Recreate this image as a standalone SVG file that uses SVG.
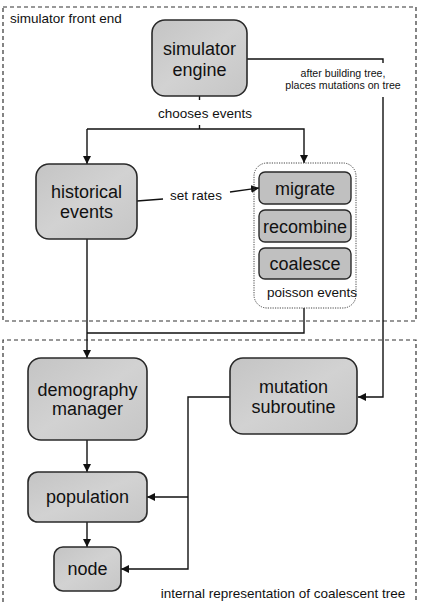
<svg xmlns="http://www.w3.org/2000/svg" width="438" height="602" viewBox="0 0 438 602">
<defs>
<marker id="ah" viewBox="0 0 10 10" refX="10" refY="5" markerWidth="8" markerHeight="8" markerUnits="userSpaceOnUse" orient="auto">
<path d="M0,0 L10,5 L0,10 Z" fill="#111"/>
</marker>
<linearGradient id="g" x1="0" y1="0" x2="1" y2="1">
<stop offset="0" stop-color="#c4c4c4"/>
<stop offset="0.5" stop-color="#d2d2d2"/>
<stop offset="1" stop-color="#c6c6c6"/>
</linearGradient>
</defs>
<style>
.frame{fill:none;stroke:#333;stroke-width:1.2;stroke-dasharray:4 3}
.box{fill:url(#g);stroke:#2a2a2a;stroke-width:1.6}
.sbox{fill:#c0c0c0;stroke:#2a2a2a;stroke-width:1.4}
.t{font-family:"Liberation Sans",Arial,sans-serif;fill:#111;text-anchor:middle}
.big{font-size:18px}
.lbl{font-size:13.5px}
.sm{font-size:10.6px}
.c{fill:none;stroke:#111;stroke-width:1.4}
.ca{fill:none;stroke:#111;stroke-width:1.4;marker-end:url(#ah)}
</style>
<rect class="frame" x="3" y="7" width="413" height="314"/>
<path class="frame" d="M3,602 V340 H416 V602"/>
<text class="t lbl" x="10" y="23" style="text-anchor:start">simulator front end</text>
<text class="t lbl" x="283" y="598">internal representation of coalescent tree</text>
<g id="connectors">
<path class="c" d="M247,59 H383 V63"/>
<path class="ca" d="M383,97 V397 H358"/>
<text class="t sm" x="343" y="77">after building tree,</text>
<text class="t sm" x="343" y="89">places mutations on tree</text>
<path class="c" d="M199.5,96 V100"/>
<text class="t lbl" x="205" y="118">chooses events</text>
<path class="c" d="M199.5,125 V129"/>
<path class="ca" d="M87,129 V164"/>
<path class="ca" d="M87,129 H304 V163"/>
<path class="c" d="M137,201 L163,199"/>
<text class="t lbl" x="196" y="200">set rates</text>
<path class="ca" d="M230,192 L259,188"/>
<path class="c" d="M304,308 V333 H87"/>
<path class="ca" d="M87,239 V358"/>
<path class="ca" d="M87,440 V472"/>
<path class="ca" d="M87,522 V547"/>
<path class="ca" d="M230,397 H188 V569 H121"/>
<path class="ca" d="M188,497 H147"/>
</g>
<g id="simulator-engine">
<rect class="box" x="152" y="20" width="95" height="76" rx="13"/>
<text class="t big" x="199.5" y="55">simulator</text>
<text class="t big" x="199.5" y="76">engine</text>
</g>
<g id="historical-events">
<rect class="box" x="36" y="164" width="101" height="75" rx="13"/>
<text class="t big" x="86.5" y="198">historical</text>
<text class="t big" x="86.5" y="218">events</text>
</g>
<g id="poisson-events">
<rect x="254" y="163" width="102" height="145" rx="13" fill="none" stroke="#444" stroke-width="1" stroke-dasharray="1.2 1.2"/>
<text class="t lbl" x="312" y="297">poisson events</text>
</g>
<g id="migrate">
<rect class="sbox" x="259" y="172" width="92" height="32" rx="6"/>
<text class="t big" x="305" y="195">migrate</text>
</g>
<g id="recombine">
<rect class="sbox" x="259" y="210" width="92" height="32" rx="6"/>
<text class="t big" x="305" y="233">recombine</text>
</g>
<g id="coalesce">
<rect class="sbox" x="259" y="248" width="92" height="31" rx="6"/>
<text class="t big" x="305" y="270">coalesce</text>
</g>
<g id="demography-manager">
<rect class="box" x="28" y="358" width="119" height="82" rx="13"/>
<text class="t big" x="87.5" y="396">demography</text>
<text class="t big" x="87.5" y="415">manager</text>
</g>
<g id="mutation-subroutine">
<rect class="box" x="230" y="358" width="127" height="76" rx="13"/>
<text class="t big" x="293.5" y="393">mutation</text>
<text class="t big" x="293.5" y="413">subroutine</text>
</g>
<g id="population">
<rect class="box" x="28" y="472" width="119" height="50" rx="10"/>
<text class="t big" x="87.5" y="503">population</text>
</g>
<g id="node">
<rect class="box" x="54" y="547" width="67" height="44" rx="9"/>
<text class="t big" x="87.5" y="575">node</text>
</g>
</svg>
